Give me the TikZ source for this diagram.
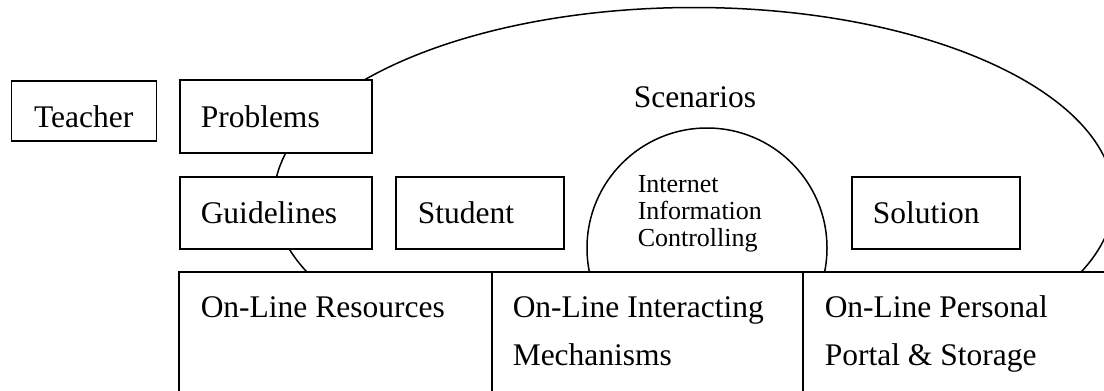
\documentclass[tikz,border=0pt]{standalone}
\usepackage{fontspec}
\setmainfont{Liberation Serif}
\newcommand\mainsize{\fontsize{31.5}{38}\selectfont}
\newcommand\twolinesize{\fontsize{31.5}{48}\selectfont}
\newcommand\innersize{\fontsize{26}{27}\selectfont}
\begin{document}
\begin{tikzpicture}[x=1pt, y=-1pt, line width=1.5pt,
  frame/.style={draw, fill=white, rectangle, anchor=north west,
                inner ysep=0pt, font=\mainsize, align=left},
  label/.style={anchor=base west, inner sep=0pt, align=left}]
  \useasboundingbox (0,0) rectangle (1104,391);

  % the scenario ellipse behind everything
  \draw (694,198) ellipse [x radius=420, y radius=190.5];
  \node[label, font=\mainsize] (scen) at (633,107) {Scenarios};

  % Internet information controlling dome (anchored on its last baseline)
  \node[draw, fill=white, circle, minimum size=240pt, inner sep=0pt] (net) at (707,248) {};
  \node[label, font=\innersize] (nettxt) at (637,246) {Internet\\Information\\Controlling};

  % three on-line platforms along the bottom
  \fill[white] (179,272) rectangle (1104,391);
  \coordinate (b1) at (179,391);
  \coordinate (t1) at (179,272);
  \coordinate (t4) at (1104,272);
  \coordinate (t2) at (492,272);
  \coordinate (b2) at (492,391);
  \coordinate (t3) at (803,272);
  \coordinate (b3) at (803,391);
  \draw (b1) -- (t1) -- (t4);
  \draw (t2) -- (b2);
  \draw (t3) -- (b3);
  \node[label, font=\twolinesize] (res) at (200,317) {On-Line Resources};
  \node[label, font=\twolinesize] (inter) at (512,365) {On-Line Interacting\\Mechanisms};
  \node[label, font=\twolinesize] (portal) at (824,365) {On-Line Personal\\Portal \& Storage};

  % boxes
  \node[frame, minimum width=145pt, minimum height=60pt, inner xsep=0pt, align=center,
        text height=34pt, text depth=0pt] (teacher) at (10.5,80) {Teacher};
  \node[frame, minimum height=73pt, inner xsep=21pt, text width=150pt] (problems) at (179,79) {Problems};
  \node[frame, minimum height=72pt, inner xsep=21pt, text width=150pt] (guide) at (179,176) {Guidelines};
  \node[frame, minimum height=72pt, inner xsep=22pt, text width=124pt] (student) at (395,176) {Student};
  \node[frame, minimum height=72pt, inner xsep=21pt, text width=126pt] (solution) at (851,176) {Solution};
\end{tikzpicture}
\end{document}
